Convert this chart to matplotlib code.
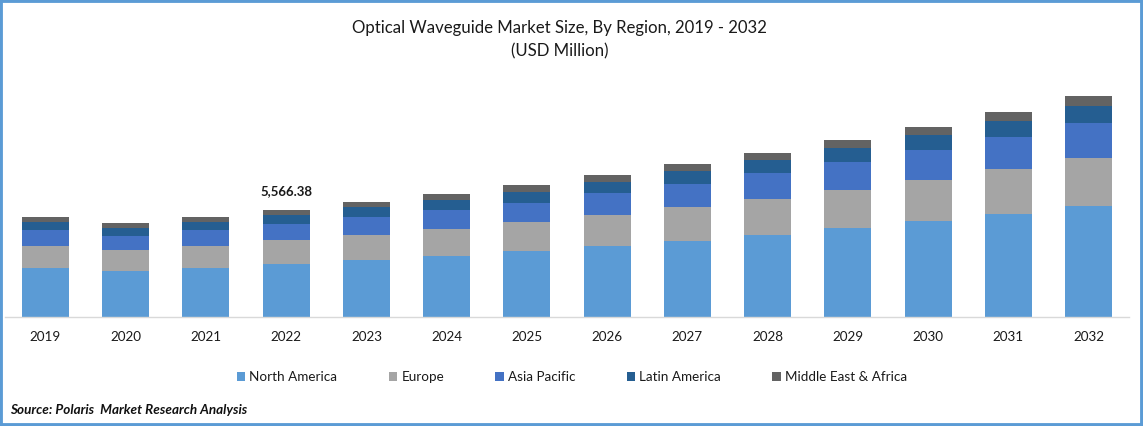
import matplotlib
matplotlib.use("Agg")
import matplotlib.pyplot as plt
from matplotlib.patches import Rectangle
import numpy as np

plt.rcParams['font.family'] = ['Lato', 'DejaVu Sans']

years = ['2019', '2020', '2021', '2022', '2023', '2024', '2025', '2026', '2027', '2028', '2029', '2030', '2031', '2032']
north_america = [2548, 2392, 2548, 2757, 2965, 3173, 3433, 3694, 3954, 4266, 4630, 4994, 5358, 5774]
europe = [1144, 1092, 1144, 1248, 1300, 1404, 1508, 1612, 1768, 1873, 1977, 2133, 2341, 2497]
asia_pacific = [832, 728, 832, 832, 936, 988, 988, 1144, 1196, 1352, 1457, 1561, 1665, 1821]
latin_america = [416, 416, 416, 468, 520, 520, 572, 572, 676, 676, 728, 780, 832, 884]
middle_east_africa = [260, 260, 260, 261, 260, 312, 364, 364, 364, 364, 416, 416, 468, 520]
series_names = ['North America', 'Europe', 'Asia Pacific', 'Latin America', 'Middle East & Africa']
series_colors = ['#5B9BD5', '#A5A5A5', '#4472C4', '#255E91', '#636363']
series = [north_america, europe, asia_pacific, latin_america, middle_east_africa]
title = 'Optical Waveguide Market Size, By Region, 2019 - 2032\n(USD Million)'
callout_year = '2022'
callout_text = '5,566.38'
source = 'Source: Polaris  Market Research Analysis'

W, H = 1143, 426
fig = plt.figure(figsize=(W / 100, H / 100), dpi=100, facecolor='white')
ax = fig.add_axes([5.4 / W, 1 - 316.7 / H, (1128.6 - 5.4) / W, (316.7 - 60) / H])

x = np.arange(len(years))
bottom = np.zeros(len(years))
for vals, name, col in zip(series, series_names, series_colors):
    ax.bar(x, vals, 0.586, bottom=bottom, color=col, label=name, linewidth=0)
    bottom += np.array(vals)

ax.set_xlim(-0.5, len(years) - 0.5)
ax.set_ylim(0, 256.7 * 52.02)
ax.set_yticks([])
ax.set_xticks(x, years)
ax.tick_params(axis='x', length=0, pad=10, labelsize=9.7, labelcolor='#1a1a1a')
for s in ['top', 'left', 'right']:
    ax.spines[s].set_visible(False)
ax.spines['bottom'].set_color('#D9D9D9')
ax.spines['bottom'].set_linewidth(1)

i = years.index(callout_year)
ax.text(x[i], bottom[i] + 660, callout_text, ha='center', va='bottom',
        fontsize=9.5, fontweight='bold', color='#1a1a1a')

fig.text(559.5 / W, 1 - 40 / H, title, ha='center', va='center', fontsize=12.1,
         color='#1a1a1a', linespacing=1.55)

fig.legend(loc='center', bbox_to_anchor=(572 / W, 1 - 377.3 / H), ncol=5, frameon=False,
           fontsize=9.7, handlelength=0.6, handleheight=0.6, handletextpad=0.32,
           columnspacing=3.82, labelcolor='#1a1a1a', borderpad=0, borderaxespad=0)

fig.text(10 / W, 1 - 410.5 / H, source, ha='left', va='center', fontsize=9.7,
         fontweight='bold', fontstyle='italic', color='#111111')

fig.add_artist(Rectangle((0, 0), 1, 1, transform=fig.transFigure, fill=False,
                         edgecolor='#5B9BD5', linewidth=4.2))

fig.savefig('out.png', dpi=100, facecolor='white')
